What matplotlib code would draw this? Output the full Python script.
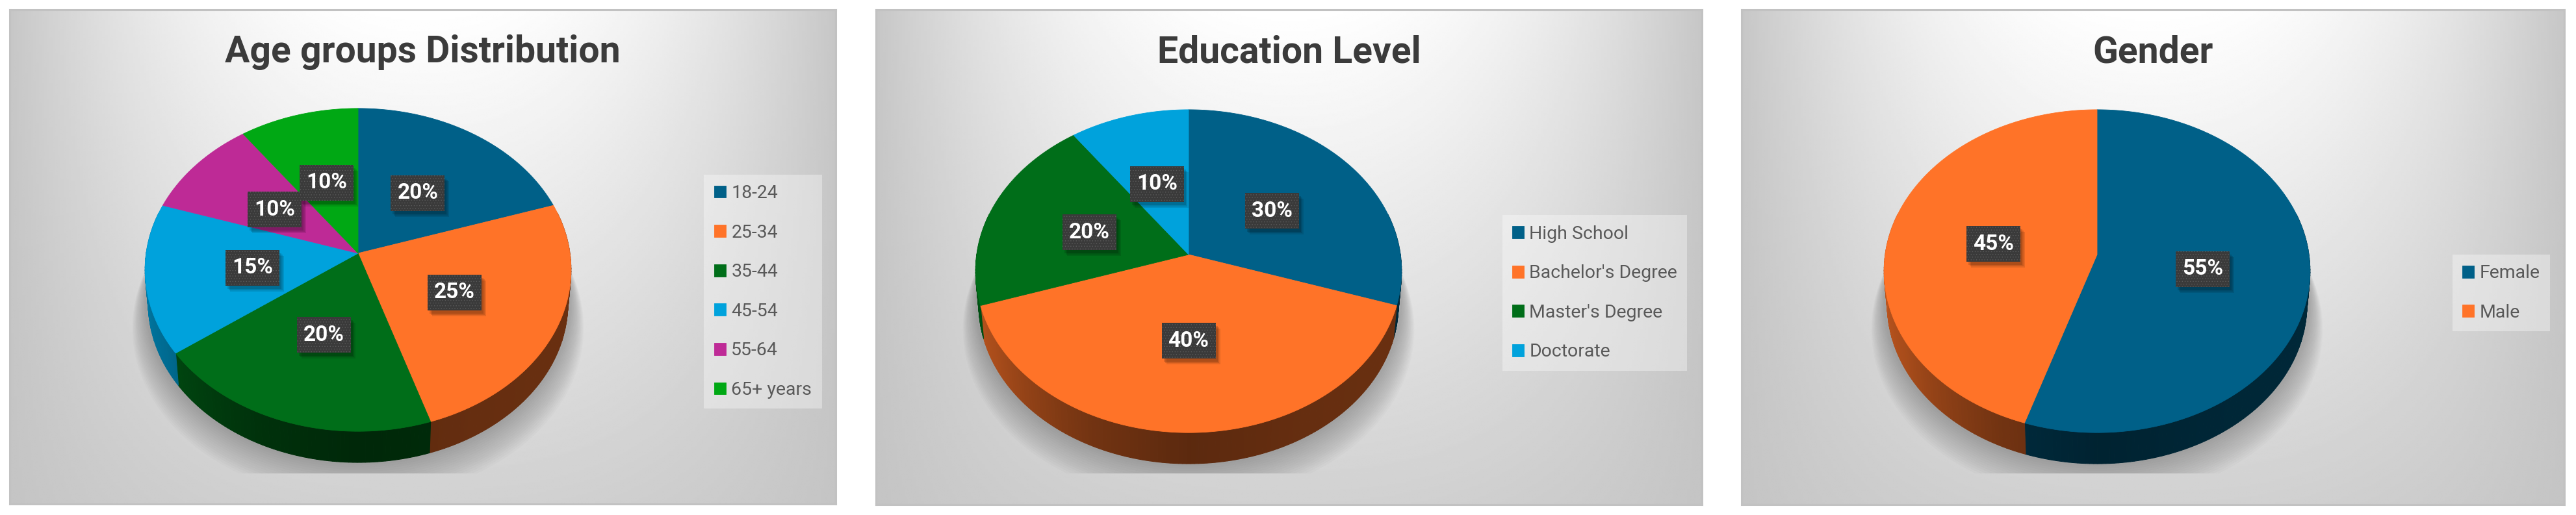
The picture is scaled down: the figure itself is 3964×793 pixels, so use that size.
import numpy as np
import matplotlib
matplotlib.use("Agg")
import matplotlib.pyplot as plt
from matplotlib.patches import Polygon, Rectangle

W, H = 3964, 793

# ---- data ----
age_labels = ["18-24", "25-34", "35-44", "45-54", "55-64", "65+ years"]
age_values = [20, 25, 20, 15, 10, 10]
edu_labels = ["High School", "Bachelor's Degree", "Master's Degree", "Doctorate"]
edu_values = [30, 40, 20, 10]
gender_labels = ["Female", "Male"]
gender_values = [55, 45]
titles = ["Age groups Distribution", "Education Level", "Gender"]

BLUE, ORANGE, GREEN, CYAN, MAGENTA, LIME = "#006088", "#FF7328", "#006E19", "#00A2DC", "#BE2A96", "#00A814"
age_colors = [BLUE, ORANGE, GREEN, CYAN, MAGENTA, LIME]
edu_colors = [BLUE, ORANGE, GREEN, CYAN]
gender_colors = [BLUE, ORANGE]

plt.rcParams["font.family"] = ["Roboto", "DejaVu Sans"]
plt.rcParams["hatch.linewidth"] = 0.5
fig = plt.figure(figsize=(W / 100, H / 100), dpi=100, facecolor="white")

A, B, P = 246.0, 326.0, 0.1027   # perspective of the pie disc
DEPTH, RIM = 52.0, 0.985


def project(theta, r=1.0):
    """clockwise angle from 12 o'clock -> offset from the apex, in pixels"""
    u, v = np.sin(theta) * r, np.cos(theta) * r
    d = 1 + P * v
    return B * u / d, -A * v / d


def wall_shade(theta):
    deg = np.degrees(theta) % 360
    return np.interp(deg, [0, 90, 150, 180, 205, 240, 270, 360],
                     [.42, .42, .40, .36, .45, .66, .76, .76])


def draw_panel(box, apex, title, labels, values, colors, legend_center, fs):
    x0, x1, y0, y1 = box
    cx, cy = apex
    ax = fig.add_axes([x0 / W, 1 - y1 / H, (x1 - x0) / W, (y1 - y0) / H])
    ax.set_xlim(x0, x1)
    ax.set_ylim(y1, y0)
    ax.set_xticks([])
    ax.set_yticks([])
    for s in ax.spines.values():
        s.set_color("#c2c2c2")
        s.set_linewidth(2.2)

    # background gradient
    gx, gy = np.meshgrid(np.linspace(0, 1, 300), np.linspace(0, 1, 300))
    h = np.abs(gx - .5) / .5
    bg = 1.0 - .18 * gy - (.22 * (1 - gy) + .05 * gy) * h ** 2.2
    ax.imshow(np.clip(bg, 0, 1), extent=[x0, x1, y1, y0], cmap="gray", vmin=0, vmax=1,
              aspect="auto", zorder=0, interpolation="bilinear")

    # soft shadow beneath the pie, cut flat at the bottom
    clip = Rectangle((x0, 415), x1 - x0, 729 - 415, transform=ax.transData)
    th = np.linspace(0, 2 * np.pi, 240)
    X, Y = project(th)
    for s, dy in zip(np.linspace(1.06, 1.0, 16), np.linspace(88, 52, 16)):
        sh = Polygon(np.c_[cx + X * s, cy + Y * s + dy], closed=True, fc="black", ec="none",
                     alpha=.014, zorder=1)
        ax.add_patch(sh)
        sh.set_clip_path(clip)

    edges = np.cumsum([0] + list(values)) / sum(values) * 2 * np.pi

    # side walls (visible only where the rim faces the viewer)
    for a, b, c in zip(edges[:-1], edges[1:], colors):
        rgb = np.array(matplotlib.colors.to_rgb(c))
        lo, hi = max(a, np.radians(75)), min(b, np.radians(285))
        if hi <= lo:
            continue
        ts = np.linspace(lo, hi, max(3, int(np.degrees(hi - lo))))
        for p, q in zip(ts[:-1], ts[1:]):
            seg = np.array([p, q])
            SX, SY = project(seg)
            top = np.c_[cx + SX, cy + SY]
            bot = np.c_[cx + SX * RIM, cy + SY * RIM + DEPTH][::-1]
            f = float(wall_shade((p + q) / 2))
            ax.add_patch(Polygon(np.r_[top, bot], closed=True, fc=rgb * f, ec=rgb * f, lw=.8, zorder=2))

    # top surface
    handles = []
    for a, b, c in zip(edges[:-1], edges[1:], colors):
        ts = np.linspace(a, b, max(3, int(np.degrees(b - a) * 2)))
        SX, SY = project(ts)
        pts = np.r_[[[cx, cy]], np.c_[cx + SX, cy + SY]]
        handles.append(ax.add_patch(Polygon(pts, closed=True, fc=c, ec=c, lw=.6, zorder=3)))

    # percentage labels
    bw, bh = 83, 55
    for a, b, v in zip(edges[:-1], edges[1:], values):
        SX, SY = project((a + b) / 2, .5)
        lx, ly = cx + SX, cy + SY + 3
        for k, al in zip((9, 7, 5), (.10, .12, .14)):
            ax.add_patch(Rectangle((lx - bw / 2 + k - 2, ly - bh / 2 + k), bw, bh, fc="black", ec="none",
                                   alpha=al, zorder=4))
        ax.add_patch(Rectangle((lx - bw / 2, ly - bh / 2), bw, bh, fc="#3A3A3A", ec="#5A5A5A",
                               lw=0, hatch="....", zorder=5))
        ax.text(lx, ly, f"{v}%", color="white", fontsize=24, fontweight="bold",
                ha="center", va="center", zorder=6)

    # legend
    leg = ax.legend(handles, labels, loc="center", bbox_to_anchor=legend_center,
                    bbox_transform=ax.transData, fontsize=fs, frameon=True, fancybox=False,
                    facecolor="white", edgecolor="none", framealpha=.35,
                    handlelength=.63, handleheight=.63, handletextpad=.3,
                    labelspacing=1.18, borderpad=.54, borderaxespad=0, labelcolor="#595959")
    leg.set_zorder(7)

    # title
    ax.text((x0 + x1) / 2, 81, title, color="#3B3B3B", fontsize=41, fontweight="bold",
            ha="center", va="center", zorder=8)


draw_panel((15, 1286, 15, 776), (551, 390), titles[0], age_labels, age_values, age_colors, (1174, 449), 20.5)
draw_panel((1348, 2619, 15, 777), (1829, 392), titles[1], edu_labels, edu_values, edu_colors, (2454, 451), 20.5)
draw_panel((2680, 3946, 15, 777), (3227, 392), titles[2], gender_labels, gender_values, gender_colors, (3849, 451), 20.5)

fig.savefig("out.png", dpi=100)
